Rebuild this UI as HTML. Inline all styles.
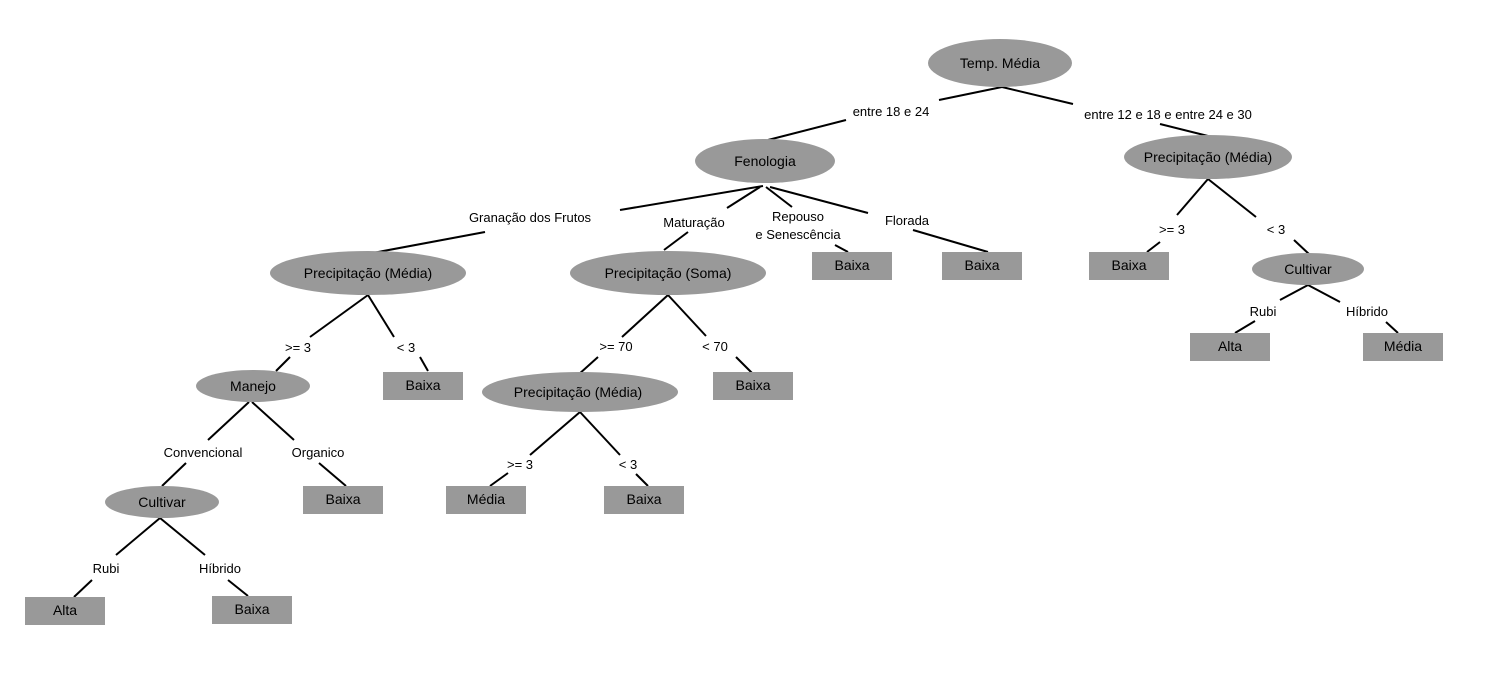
<!DOCTYPE html>
<html><head><meta charset="utf-8"><style>
html,body{margin:0;padding:0;background:#fff;}
svg{display:block;}
text{font-family:"Liberation Sans",Arial,sans-serif;fill:#000;text-anchor:middle;}
.n{font-size:14px;}
.l{font-size:13px;}
line{stroke:#000;stroke-width:2;}
ellipse,rect{fill:#999;}
</style></head><body>
<svg width="1500" height="700" viewBox="0 0 1500 700">
<!-- edges -->
<line x1="1002" y1="87" x2="939" y2="100"/><line x1="846" y1="120" x2="768" y2="140"/>
<line x1="1002" y1="87" x2="1073" y2="104"/><line x1="1160" y1="124" x2="1208" y2="136"/>
<line x1="763" y1="186" x2="620" y2="210"/><line x1="485" y1="232" x2="362" y2="255"/>
<line x1="760" y1="187" x2="727" y2="208"/><line x1="688" y1="232" x2="664" y2="250"/>
<line x1="766" y1="187" x2="792" y2="207"/><line x1="835" y1="245" x2="848" y2="252"/>
<line x1="770" y1="187" x2="868" y2="213"/><line x1="913" y1="230" x2="988" y2="252"/>
<line x1="1208" y1="179" x2="1177" y2="215"/><line x1="1160" y1="242" x2="1147" y2="252"/>
<line x1="1208" y1="179" x2="1256" y2="217"/><line x1="1294" y1="240" x2="1310" y2="255"/>
<line x1="1308" y1="285" x2="1280" y2="300"/><line x1="1255" y1="321" x2="1235" y2="333"/>
<line x1="1308" y1="285" x2="1340" y2="302"/><line x1="1386" y1="322" x2="1398" y2="333"/>
<line x1="368" y1="295" x2="310" y2="337"/><line x1="290" y1="357" x2="276" y2="371"/>
<line x1="368" y1="295" x2="394" y2="337"/><line x1="420" y1="357" x2="428" y2="371"/>
<line x1="249" y1="402" x2="208" y2="440"/><line x1="186" y1="463" x2="162" y2="486"/>
<line x1="252" y1="402" x2="294" y2="440"/><line x1="319" y1="463" x2="346" y2="486"/>
<line x1="160" y1="518" x2="116" y2="555"/><line x1="92" y1="580" x2="74" y2="597"/>
<line x1="160" y1="518" x2="205" y2="555"/><line x1="228" y1="580" x2="248" y2="596"/>
<line x1="668" y1="295" x2="622" y2="337"/><line x1="598" y1="357" x2="578" y2="375"/>
<line x1="668" y1="295" x2="706" y2="336"/><line x1="736" y1="357" x2="752" y2="373"/>
<line x1="580" y1="412" x2="530" y2="455"/><line x1="508" y1="473" x2="490" y2="486"/>
<line x1="580" y1="412" x2="620" y2="455"/><line x1="636" y1="474" x2="648" y2="486"/>
<!-- edge labels -->
<g class="l">
<text class="l" x="891" y="116">entre 18 e 24</text>
<text class="l" x="1168" y="119">entre 12 e 18 e entre 24 e 30</text>
<text class="l" x="530" y="222">Granação dos Frutos</text>
<text class="l" x="694" y="227">Maturação</text>
<text class="l" x="798" y="221">Repouso</text>
<text class="l" x="798" y="239">e Senescência</text>
<text class="l" x="907" y="225">Florada</text>
<text class="l" x="1172" y="234">&gt;= 3</text>
<text class="l" x="1276" y="234">&lt; 3</text>
<text class="l" x="1263" y="316">Rubi</text>
<text class="l" x="1367" y="316">Híbrido</text>
<text class="l" x="298" y="352">&gt;= 3</text>
<text class="l" x="406" y="352">&lt; 3</text>
<text class="l" x="203" y="457">Convencional</text>
<text class="l" x="318" y="457">Organico</text>
<text class="l" x="106" y="573">Rubi</text>
<text class="l" x="220" y="573">Híbrido</text>
<text class="l" x="616" y="351">&gt;= 70</text>
<text class="l" x="715" y="351">&lt; 70</text>
<text class="l" x="520" y="469">&gt;= 3</text>
<text class="l" x="628" y="469">&lt; 3</text>
</g>
<!-- ellipses -->
<ellipse cx="1000" cy="63" rx="72" ry="24"/><text class="n" x="1000" y="68">Temp. Média</text>
<ellipse cx="765" cy="161" rx="70" ry="22"/><text class="n" x="765" y="166">Fenologia</text>
<ellipse cx="1208" cy="157" rx="84" ry="22"/><text class="n" x="1208" y="162">Precipitação (Média)</text>
<ellipse cx="368" cy="273" rx="98" ry="22"/><text class="n" x="368" y="278">Precipitação (Média)</text>
<ellipse cx="668" cy="273" rx="98" ry="22"/><text class="n" x="668" y="278">Precipitação (Soma)</text>
<ellipse cx="253" cy="386" rx="57" ry="16"/><text class="n" x="253" y="391">Manejo</text>
<ellipse cx="580" cy="392" rx="98" ry="20"/><text class="n" x="578" y="397">Precipitação (Média)</text>
<ellipse cx="162" cy="502" rx="57" ry="16"/><text class="n" x="162" y="507">Cultivar</text>
<ellipse cx="1308" cy="269" rx="56" ry="16"/><text class="n" x="1308" y="274">Cultivar</text>
<!-- leaves -->
<rect x="383" y="372" width="80" height="28"/><text class="n" x="423" y="390">Baixa</text>
<rect x="303" y="486" width="80" height="28"/><text class="n" x="343" y="504">Baixa</text>
<rect x="25" y="597" width="80" height="28"/><text class="n" x="65" y="615">Alta</text>
<rect x="212" y="596" width="80" height="28"/><text class="n" x="252" y="614">Baixa</text>
<rect x="812" y="252" width="80" height="28"/><text class="n" x="852" y="270">Baixa</text>
<rect x="942" y="252" width="80" height="28"/><text class="n" x="982" y="270">Baixa</text>
<rect x="1089" y="252" width="80" height="28"/><text class="n" x="1129" y="270">Baixa</text>
<rect x="713" y="372" width="80" height="28"/><text class="n" x="753" y="390">Baixa</text>
<rect x="446" y="486" width="80" height="28"/><text class="n" x="486" y="504">Média</text>
<rect x="604" y="486" width="80" height="28"/><text class="n" x="644" y="504">Baixa</text>
<rect x="1190" y="333" width="80" height="28"/><text class="n" x="1230" y="351">Alta</text>
<rect x="1363" y="333" width="80" height="28"/><text class="n" x="1403" y="351">Média</text>
</svg>
</body></html>
